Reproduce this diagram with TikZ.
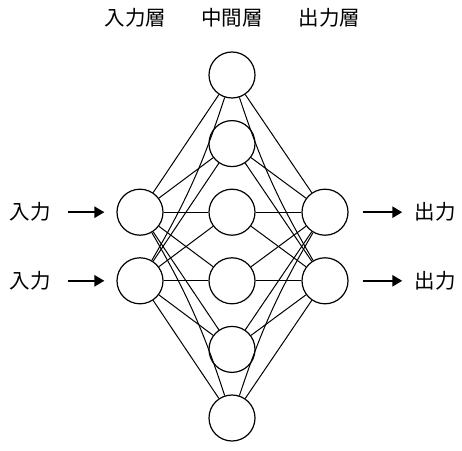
\documentclass[tikz,border=0pt]{standalone}
\usepackage{fontspec}
\newfontfamily\jpfont{Noto Sans CJK JP}
\usetikzlibrary{arrows.meta,positioning}

\begin{document}
\begin{tikzpicture}[x=1pt,y=1pt,
    neuron/.style={draw,circle,line width=1.2pt,minimum size=46pt,inner sep=0pt},
    link/.style={line width=1pt},
    feed/.style={line width=2.4pt,-{Triangle[length=10pt,width=11pt]}},
    jptext/.style={font=\jpfont\fontsize{20.5}{20.5}\selectfont,inner sep=0pt}]
    \useasboundingbox (0,0) rectangle (462,450);

    % Layer titles
    \node[jptext] (tin) at (135.5,432) {入力層};
    \node[jptext] (thid) at (232,432) {中間層};
    \node[jptext] (tout) at (329.5,432) {出力層};

    % Input layer
    \node[neuron] (in1) at (140,237.8) {};
    \node[neuron] (in2) at (140,169.2) {};

    % Hidden layer
    \foreach \i/\y in {1/375,2/306.4,3/237.8,4/169.2,5/100.6,6/32}
        \node[neuron] (h\i) at (232,\y) {};

    % Output layer
    \node[neuron] (out1) at (325,237.8) {};
    \node[neuron] (out2) at (325,169.2) {};

    % Input -> hidden
    \foreach \i in {1,...,5}
        \draw[link] (in1) -- (h\i);
    \draw[link] (in1) to[bend left=6] (h6);
    \foreach \i in {2,...,6}
        \draw[link] (in2) -- (h\i);
    \draw[link] (in2) to[bend right=6] (h1);

    % Hidden -> output
    \foreach \i in {1,...,5}
        \draw[link] (h\i) -- (out1);
    \draw[link] (h6) to[bend left=6] (out1);
    \foreach \i in {2,...,6}
        \draw[link] (h\i) -- (out2);
    \draw[link] (h1) to[bend right=6] (out2);

    % Inputs and outputs
    \node[jptext] (x1) at (30,237.8) {入力};
    \node[jptext] (x2) at (30,169.2) {入力};
    \node[jptext] (y1) at (435,237.8) {出力};
    \node[jptext] (y2) at (435,169.2) {出力};
    \draw[feed,shorten <=17pt,shorten >=12pt] (x1) -- (in1);
    \draw[feed,shorten <=17pt,shorten >=12pt] (x2) -- (in2);
    \draw[feed,shorten <=14pt,shorten >=12pt] (out1) -- (y1);
    \draw[feed,shorten <=14pt,shorten >=12pt] (out2) -- (y2);
\end{tikzpicture}
\end{document}
